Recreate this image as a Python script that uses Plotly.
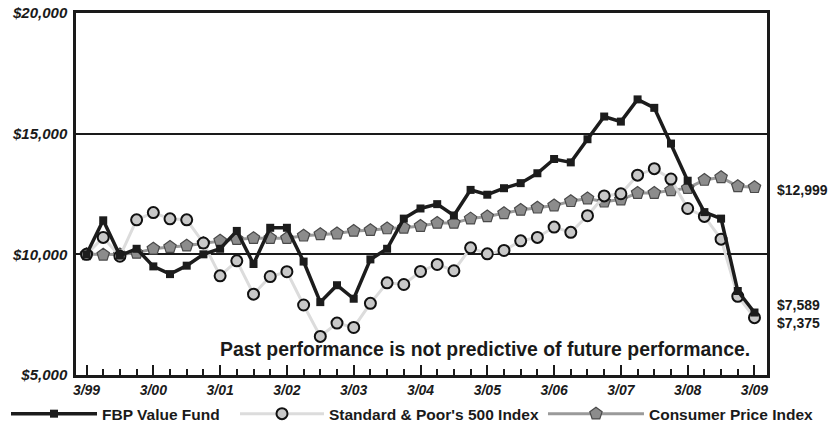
import plotly.graph_objects as go

# ---- data -------------------------------------------------------------
quarters = list(range(41))  # 3/99 ... 3/09, quarterly
tick_positions = [0, 4, 8, 12, 16, 20, 24, 28, 32, 36, 40]
tick_labels = ["3/99", "3/00", "3/01", "3/02", "3/03", "3/04",
               "3/05", "3/06", "3/07", "3/08", "3/09"]

fbp_value_fund = [10000, 11410, 9950, 10230, 9500, 9180, 9530, 10000, 10230,
                  10970, 9600, 11100, 11100, 9700, 8020, 8720, 8160, 9790,
                  10230, 11480, 11900, 12080, 11610, 12670, 12470, 12740,
                  12950, 13360, 13950, 13810, 14770, 15710, 15500, 16420,
                  16070, 14590, 13050, 11750, 11480, 8480, 7589]

sp500_index = [10000, 10700, 9920, 11430, 11730, 11470, 11430, 10470, 9110,
               9730, 8350, 9080, 9280, 7900, 6600, 7150, 6970, 7970, 8820,
               8750, 9290, 9580, 9320, 10270, 10020, 10160, 10560, 10700,
               11130, 10910, 11600, 12420, 12510, 13280, 13550, 13120,
               11900, 11570, 10630, 8260, 7375]

cpi_index = [10000, 9980, 9990, 10060, 10230, 10300, 10360, 10460, 10560,
             10630, 10670, 10670, 10670, 10770, 10830, 10860, 10970, 11000,
             11070, 11100, 11170, 11300, 11300, 11480, 11570, 11700, 11840,
             11930, 12020, 12200, 12310, 12180, 12270, 12540, 12540, 12650,
             12740, 13080, 13190, 12820, 12780]

y_tick_values = [5000, 10000, 15000, 20000]
y_tick_labels = ["$5,000", "$10,000", "$15,000", "$20,000"]

end_labels = ["$12,999", "$7,589", "$7,375"]
note_text = "Past performance is not predictive of future performance."

# ---- figure -----------------------------------------------------------
fig = go.Figure()

fig.add_trace(go.Scatter(
    x=quarters, y=cpi_index, name="Consumer Price Index",
    mode="lines+markers",
    line=dict(color="#9a9a9a", width=3),
    marker=dict(symbol="pentagon", size=13, color="#8c8c8c",
                line=dict(color="#4a4a4a", width=1.2)),
    legend="legend3",
))
fig.add_trace(go.Scatter(
    x=quarters, y=sp500_index, name="Standard & Poor's 500 Index",
    mode="lines+markers",
    line=dict(color="#dcdcdc", width=3),
    marker=dict(symbol="circle", size=11, color="#c8c8c8",
                line=dict(color="#111111", width=2)),
    legend="legend2",
))
fig.add_trace(go.Scatter(
    x=quarters, y=fbp_value_fund, name="FBP Value Fund",
    mode="lines+markers",
    line=dict(color="#1c1c1c", width=3.5),
    marker=dict(symbol="square", size=8, color="#1c1c1c"),
    legend="legend",
))

font_main = "Liberation Sans, Arial, Helvetica, sans-serif"
legend_font = dict(size=15.5, weight="bold", family=font_main, color="#1a1a1a")


def legend_box(x, width):
    return dict(orientation="h", x=x, xanchor="left", y=-0.108,
                yanchor="middle", font=legend_font, itemwidth=width,
                bgcolor="rgba(0,0,0,0)")


fig.update_layout(
    width=834, height=429,
    margin=dict(l=76, r=67, t=13, b=54, autoexpand=False),
    paper_bgcolor="white", plot_bgcolor="white",
    font=dict(family=font_main, color="#1a1a1a"),
    showlegend=True,
    legend=legend_box(-0.1013, 86),
    legend2=legend_box(0.2301, 84),
    legend3=legend_box(0.6758, 96),
    xaxis=dict(
        range=[-0.63, 40.75], automargin=False,
        tickmode="array", tickvals=tick_positions, ticktext=tick_labels,
        ticks="inside", ticklen=10, tickwidth=1.5, tickcolor="#1a1a1a",
        minor=dict(tickmode="linear", tick0=0, dtick=1, ticks="inside",
                   ticklen=6, tickwidth=1.5, tickcolor="#1a1a1a"),
        tickfont=dict(size=14, weight="bold", style="italic", family=font_main,
                      color="#1a1a1a"),
        showgrid=False, zeroline=False,
        showline=True, linecolor="#1a1a1a", linewidth=2.5, mirror=True,
    ),
    yaxis=dict(
        range=[5000, 20000], automargin=False,
        tickmode="array", tickvals=y_tick_values, ticktext=y_tick_labels,
        ticks="", ticklabelstandoff=3,
        tickfont=dict(size=15, weight="bold", style="italic", family=font_main,
                      color="#1a1a1a"),
        showgrid=True, gridcolor="#1a1a1a", gridwidth=1.6,
        zeroline=False,
        showline=True, linecolor="#1a1a1a", linewidth=2.5, mirror=True,
    ),
)

# note inside the plot
fig.add_annotation(
    text=note_text, xref="paper", yref="paper", x=0.592, y=0.072,
    xanchor="center", yanchor="middle", showarrow=False,
    font=dict(size=19.4, weight="bold", family=font_main, color="#1a1a1a"),
)

# ending value labels
end_values = [cpi_index[-1], fbp_value_fund[-1], sp500_index[-1]]
end_shifts = [-3, 8, -5]
for label, val, shift in zip(end_labels, end_values, end_shifts):
    fig.add_annotation(
        text=label, xref="paper", yref="y", x=1.011, y=val, yshift=shift,
        xanchor="left", yanchor="middle", showarrow=False,
        font=dict(size=14, weight="bold", family=font_main, color="#1a1a1a"),
    )

fig.write_html("out.html", config={"displayModeBar": False},
               post_script="document.body.style.margin='0px';")
